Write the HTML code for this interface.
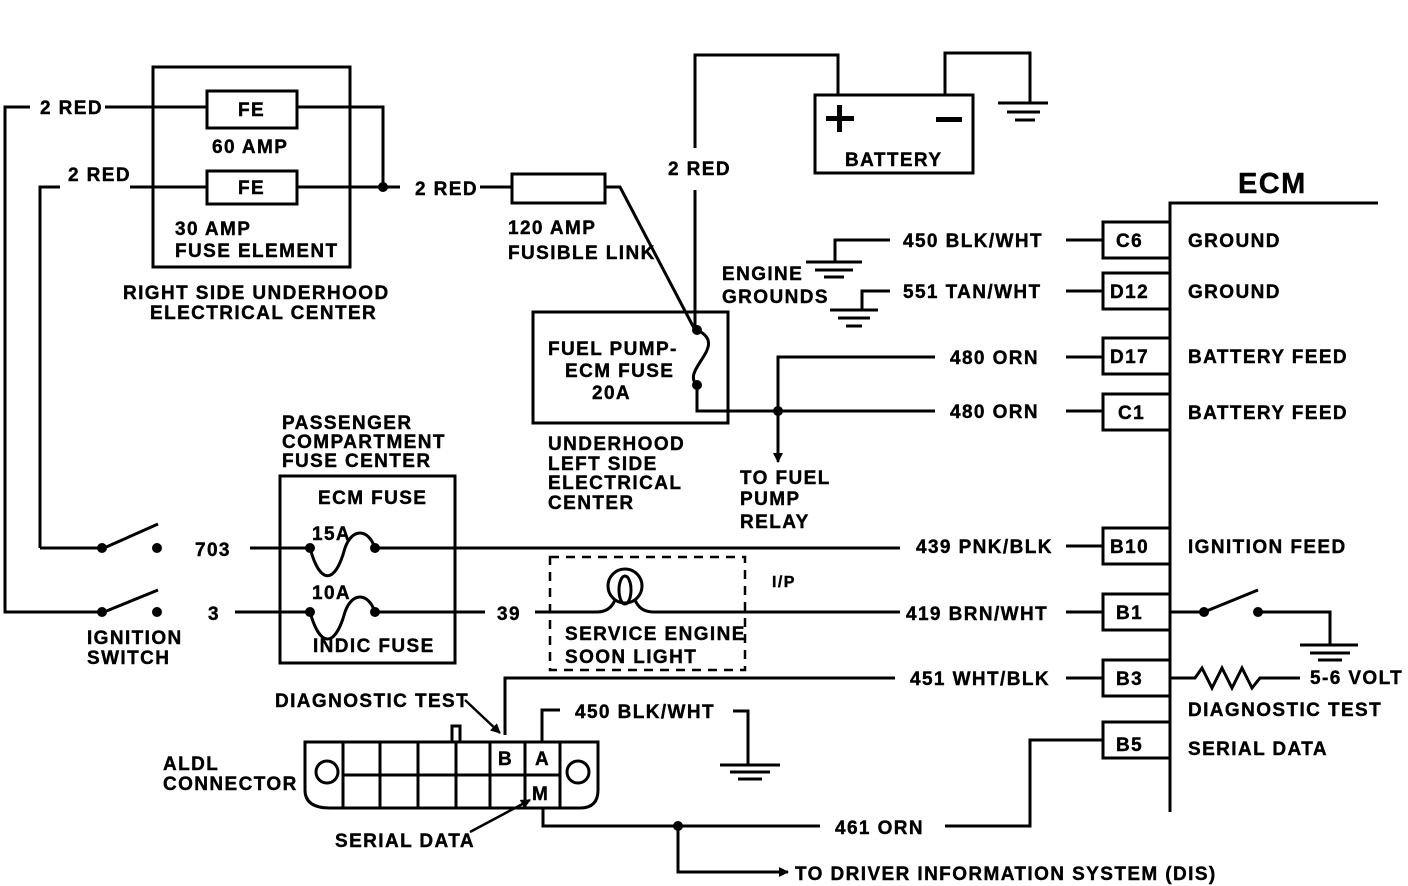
<!DOCTYPE html>
<html><head><style>
body{margin:0;background:#fff}
svg{display:block}
text{font-family:"Liberation Sans",sans-serif;font-weight:bold;font-size:19px;fill:#000;letter-spacing:1.4px;stroke:#000;stroke-width:0.4px}
</style></head><body>
<svg width="1408" height="886" viewBox="0 0 1408 886" xmlns="http://www.w3.org/2000/svg">
<defs><marker id="ar" markerWidth="10" markerHeight="10" refX="9" refY="5" orient="auto" markerUnits="userSpaceOnUse"><path d="M0,0 L10,5 L0,10 z" fill="#000"/></marker></defs>
<g stroke="#000" stroke-width="3" fill="none">
<rect x="153" y="67" width="197" height="200"/>
<rect x="207" y="91" width="90" height="37"/>
<rect x="207" y="171" width="90" height="33"/>
<path d="M30,107 H5 V612 H100"/>
<path d="M105,107 H207 M297,107 H383 V187"/>
<path d="M40,548 V187 H60 M130,187 H207 M297,187 H400"/>
<path d="M40,548 H100"/>
<path d="M480,187 H512"/>
<rect x="512" y="174" width="93" height="29"/>
<path d="M605,187 H620 L695,330"/>
<rect x="533" y="312" width="195" height="111"/>
<path d="M697,330 C730,345 680,370 697,385"/>
<path d="M697,385 V411 H935 M778,411 V357 H935 M778,411 V458" />
<path d="M1066,357 H1103 M1066,411 H1103"/>
<path d="M695,148 V55 H838 V95 M695,190 V330"/>
<rect x="815" y="95" width="158" height="78"/>
<path d="M945,95 V53 H1030 V103 M998,103 H1048 M1007,112 H1040 M1015,120 H1035"/>
<path d="M1170,812 V203 H1378"/>
<rect x="1103" y="222" width="67" height="36"/>
<rect x="1103" y="273" width="67" height="36"/>
<rect x="1103" y="338" width="67" height="36"/>
<rect x="1103" y="394" width="67" height="36"/>
<rect x="1103" y="528" width="67" height="36"/>
<rect x="1103" y="594" width="67" height="36"/>
<rect x="1103" y="660" width="67" height="36"/>
<rect x="1103" y="722" width="67" height="36"/>
<path d="M890,240 H835 V262 M806,262 H862 M815,270 H853 M824,277 H844 M1066,240 H1103"/>
<path d="M890,291 H862 V310 M830,310 H878 M838,318 H870 M846,326 H862 M1066,291 H1103"/>
<path d="M104,548 L158,524 M104,612 L158,590"/>
<path d="M250,548 H310 M375,548 H900 M1066,546 H1103"/>
<path d="M235,612 H310 M375,612 H485 M535,612 H597 Q610,612 615,600 M635,600 Q640,612 653,612 H900 M1066,612 H1103"/>
<rect x="280" y="476" width="175" height="187"/>
<path d="M310,548 C320,585 335,585 345,548 C352,528 368,528 375,548"/>
<path d="M310,612 C320,648 335,648 345,612 C352,592 368,592 375,612"/>
<rect x="550" y="557" width="195" height="113" stroke-dasharray="9,7" stroke-width="2.5"/>
<circle cx="625" cy="586" r="17"/>
<ellipse cx="625" cy="590" rx="6" ry="14"/>
<path d="M1170,612 H1200 M1204,612 L1258,590 M1258,612 H1330 V645 M1300,645 H1358 M1310,653 H1350 M1318,660 H1342"/>
<path d="M895,678 H505 V735 M1066,678 H1103 M1170,678 H1195 L1202,668 L1212,688 L1222,668 L1232,688 L1242,668 L1252,688 L1260,678 H1300"/>
<path d="M1103,740 H1030 V826 H945 M820,826 H543 V808 M678,826 V872 H788" marker-end="url(#ar)"/>
<path d="M305,742 H598 V790 Q598,808 580,808 H330 Q305,808 305,790 Z"/>
<path d="M343,742 V808 M380,742 V808 M418,742 V808 M456,742 V808 M490,742 V808 M525,742 V808 M560,742 V808 M343,775 H560"/>
<rect x="452" y="726" width="8" height="16"/>
<circle cx="327" cy="772" r="11"/>
<circle cx="578" cy="772" r="11"/>
<path d="M542,742 V710 H560 M733,711 H748 V765 M720,765 H780 M730,772 H770 M738,779 H762"/>
</g>
<g stroke="#000" stroke-width="2.5" fill="none">
<path d="M465,700 L500,733" marker-end="url(#ar)"/>
<path d="M470,832 L530,800" marker-end="url(#ar)"/>
<path d="M778,430 V462" marker-end="url(#ar)"/>
</g>
<g fill="#000">
<circle cx="383" cy="187" r="5"/><circle cx="697" cy="330" r="5"/><circle cx="697" cy="385" r="5"/>
<circle cx="778" cy="411" r="5"/><circle cx="102" cy="548" r="5"/><circle cx="157" cy="548" r="5"/>
<circle cx="102" cy="612" r="5"/><circle cx="157" cy="612" r="5"/><circle cx="310" cy="548" r="5"/>
<circle cx="375" cy="548" r="5"/><circle cx="310" cy="612" r="5"/><circle cx="375" cy="612" r="5"/>
<circle cx="1204" cy="612" r="5"/><circle cx="1258" cy="612" r="5"/><circle cx="678" cy="826" r="5"/>
<rect x="826" y="116" width="28" height="5"/><rect x="837" y="105" width="5" height="27"/>
<rect x="936" y="117" width="26" height="5"/>
</g>
<text x="40" y="114">2 RED</text>
<text x="68" y="181">2 RED</text>
<text x="238" y="116">FE</text>
<text x="238" y="194">FE</text>
<text x="212" y="153">60 AMP</text>
<text x="175" y="235">30 AMP</text>
<text x="175" y="257">FUSE ELEMENT</text>
<text x="123" y="299">RIGHT SIDE UNDERHOOD</text>
<text x="150" y="319">ELECTRICAL CENTER</text>
<text x="415" y="195">2 RED</text>
<text x="508" y="234">120 AMP</text>
<text x="508" y="259">FUSIBLE LINK</text>
<text x="668" y="175">2 RED</text>
<text x="845" y="166">BATTERY</text>
<text x="1238" y="193" style="font-size:29px">ECM</text>
<text x="548" y="355">FUEL PUMP-</text>
<text x="565" y="377">ECM FUSE</text>
<text x="592" y="399">20A</text>
<text x="548" y="450">UNDERHOOD</text>
<text x="548" y="470">LEFT SIDE</text>
<text x="548" y="489">ELECTRICAL</text>
<text x="548" y="509">CENTER</text>
<text x="722" y="280">ENGINE</text>
<text x="722" y="303">GROUNDS</text>
<text x="903" y="247">450 BLK/WHT</text>
<text x="903" y="298">551 TAN/WHT</text>
<text x="950" y="364">480 ORN</text>
<text x="950" y="418">480 ORN</text>
<text x="740" y="484">TO FUEL</text>
<text x="740" y="505">PUMP</text>
<text x="740" y="528">RELAY</text>
<text x="1116" y="247">C6</text><text x="1188" y="247">GROUND</text>
<text x="1110" y="298">D12</text><text x="1188" y="298">GROUND</text>
<text x="1110" y="363">D17</text><text x="1188" y="363">BATTERY FEED</text>
<text x="1118" y="419">C1</text><text x="1188" y="419">BATTERY FEED</text>
<text x="1110" y="553">B10</text><text x="1188" y="553">IGNITION FEED</text>
<text x="1116" y="619">B1</text>
<text x="1116" y="685">B3</text>
<text x="1116" y="751">B5</text>
<text x="1310" y="684">5-6 VOLT</text>
<text x="1188" y="716">DIAGNOSTIC TEST</text>
<text x="1188" y="755">SERIAL DATA</text>
<text x="282" y="429">PASSENGER</text>
<text x="282" y="448">COMPARTMENT</text>
<text x="282" y="467">FUSE CENTER</text>
<text x="318" y="504">ECM FUSE</text>
<text x="312" y="540">15A</text>
<text x="312" y="599">10A</text>
<text x="313" y="652">INDIC FUSE</text>
<text x="195" y="556">703</text>
<text x="208" y="620">3</text>
<text x="497" y="620">39</text>
<text x="916" y="553">439 PNK/BLK</text>
<text x="906" y="620">419 BRN/WHT</text>
<text x="772" y="587" style="font-size:16px">I/P</text>
<text x="565" y="640">SERVICE ENGINE</text>
<text x="565" y="663">SOON LIGHT</text>
<text x="87" y="644">IGNITION</text>
<text x="87" y="664">SWITCH</text>
<text x="910" y="685">451 WHT/BLK</text>
<text x="275" y="707">DIAGNOSTIC TEST</text>
<text x="575" y="718">450 BLK/WHT</text>
<text x="163" y="770">ALDL</text>
<text x="163" y="790">CONNECTOR</text>
<text x="498" y="765">B</text><text x="535" y="765">A</text><text x="532" y="800">M</text>
<text x="335" y="847">SERIAL DATA</text>
<text x="835" y="834">461 ORN</text>
<text x="795" y="880">TO DRIVER INFORMATION SYSTEM (DIS)</text>
</svg>
</body></html>
